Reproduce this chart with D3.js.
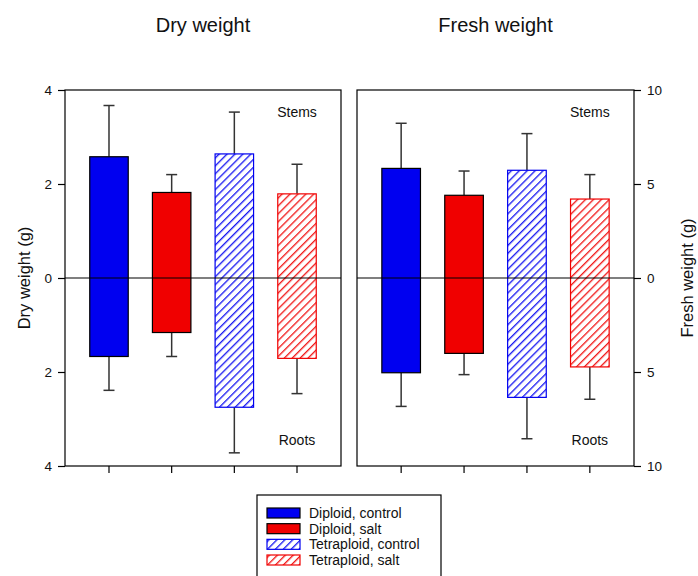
<!DOCTYPE html>
<html>
<head>
<meta charset="utf-8">
<script src="https://cdn.jsdelivr.net/npm/d3@7"></script>
<style>
  html, body { margin: 0; padding: 0; background: #fff; }
  svg { display: block; font-family: Arial, "Liberation Sans", sans-serif; }
</style>
</head>
<body>
<svg id="chart" width="698" height="576"></svg>
<script>
// Treatment groups, in bar order
const categories = ["Diploid, control", "Diploid, salt", "Tetraploid, control", "Tetraploid, salt"];
const colors = ["#0000f0", "#f00000", "#0000f0", "#f00000"];
const hatched = [false, false, true, true];

// Dry weight (g): means and standard errors, stems (up) and roots (down)
const dryStems = [2.58, 1.82, 2.64, 1.79];
const dryStemsErr = [1.09, 0.38, 0.89, 0.63];
const dryRoots = [1.67, 1.16, 2.75, 1.71];
const dryRootsErr = [0.72, 0.51, 0.97, 0.75];

// Fresh weight (g)
const freshStems = [5.83, 4.40, 5.73, 4.20];
const freshStemsErr = [2.40, 1.29, 1.95, 1.30];
const freshRoots = [5.04, 4.01, 6.35, 4.73];
const freshRootsErr = [1.79, 1.13, 2.20, 1.72];

const dryTicks = [-4, -2, 0, 2, 4];
const freshTicks = [-10, -5, 0, 5, 10];

const svg = d3.select("#chart");
const plotTop = 90, plotBottom = 466;

// Diagonal hatch patterns for tetraploid bars
const defs = svg.append("defs");
const hatchId = c => "hatch" + c.slice(1);
[...new Set(colors)].forEach(c => {
  const p = defs.append("pattern")
    .attr("id", hatchId(c))
    .attr("patternUnits", "userSpaceOnUse")
    .attr("width", 5.6).attr("height", 5.6)
    .attr("patternTransform", "rotate(45)");
  p.append("rect").attr("width", 5.6).attr("height", 5.6).attr("fill", "#fff");
  p.append("line").attr("x1", 0.7).attr("y1", 0).attr("x2", 0.7).attr("y2", 5.6)
    .attr("stroke", c).attr("stroke-width", 1.2);
});
const fillOf = i => hatched[i] ? `url(#${hatchId(colors[i])})` : colors[i];
const strokeOf = i => hatched[i] ? colors[i] : "#000";

function panel(opts) {
  const { x0, x1, domain, ticks, stems, stemsErr, roots, rootsErr, title, axisSide, axisLabel } = opts;
  const g = svg.append("g");
  const x = d3.scaleBand().domain(categories).range([x0, x1])
    .paddingInner(0.386).paddingOuter(0.395);
  const y = d3.scaleLinear().domain(domain).range([plotBottom, plotTop]);

  const rows = categories.map((c, i) => ({ c, i, s: stems[i], se: stemsErr[i], r: roots[i], re: rootsErr[i] }));

  // Error bars (outward only)
  const eg = g.append("g").attr("stroke", "#333").attr("stroke-width", 1.5).attr("fill", "none");
  rows.forEach(d => {
    const cx = x(d.c) + x.bandwidth() / 2;
    eg.append("line").attr("x1", cx).attr("x2", cx).attr("y1", y(d.s)).attr("y2", y(d.s + d.se));
    eg.append("line").attr("x1", cx - 5.5).attr("x2", cx + 5.5).attr("y1", y(d.s + d.se)).attr("y2", y(d.s + d.se));
    eg.append("line").attr("x1", cx).attr("x2", cx).attr("y1", y(-d.r)).attr("y2", y(-d.r - d.re));
    eg.append("line").attr("x1", cx - 5.5).attr("x2", cx + 5.5).attr("y1", y(-d.r - d.re)).attr("y2", y(-d.r - d.re));
  });

  // Bars: stems above zero, roots below
  g.selectAll("rect.bar").data(rows).join("rect")
    .attr("class", "bar")
    .attr("x", d => x(d.c))
    .attr("width", x.bandwidth())
    .attr("y", d => y(d.s))
    .attr("height", d => y(-d.r) - y(d.s))
    .attr("fill", d => fillOf(d.i))
    .attr("stroke", d => strokeOf(d.i))
    .attr("stroke-width", 1.2);

  // Zero line
  g.append("line").attr("x1", x0).attr("x2", x1).attr("y1", y(0)).attr("y2", y(0))
    .attr("stroke", "#000").attr("stroke-width", 1.2);

  // Frame
  g.append("rect").attr("x", x0).attr("y", plotTop).attr("width", x1 - x0).attr("height", plotBottom - plotTop)
    .attr("fill", "none").attr("stroke", "#000").attr("stroke-width", 1.2);

  // Value axis
  const axis = (axisSide === "left" ? d3.axisLeft(y) : d3.axisRight(y))
    .tickValues(ticks).tickSize(7).tickPadding(6).tickFormat(v => Math.abs(v));
  const ag = g.append("g")
    .attr("transform", `translate(${axisSide === "left" ? x0 : x1},0)`)
    .call(axis);
  ag.select(".domain").remove();
  ag.selectAll(".tick line").attr("stroke", "#000").attr("stroke-width", 1.2);
  ag.selectAll(".tick text").attr("fill", "#111").attr("font-size", 13.5)
    .attr("font-family", "Arial, 'Liberation Sans', sans-serif");

  // Category ticks along the bottom
  const xg = g.append("g").attr("transform", `translate(0,${plotBottom})`)
    .call(d3.axisBottom(x).tickSize(7).tickFormat(""));
  xg.select(".domain").remove();
  xg.selectAll(".tick line").attr("stroke", "#000").attr("stroke-width", 1.2);

  // Organ labels
  const lx = x(categories[3]) + x.bandwidth() / 2;
  g.append("text").attr("x", lx).attr("y", 117).attr("text-anchor", "middle")
    .attr("font-size", 14).attr("fill", "#111").text("Stems");
  g.append("text").attr("x", lx).attr("y", 445).attr("text-anchor", "middle")
    .attr("font-size", 14).attr("fill", "#111").text("Roots");

  // Panel title
  svg.append("text").attr("x", (x0 + x1) / 2).attr("y", 32).attr("text-anchor", "middle")
    .attr("font-size", 20).attr("fill", "#111").text(title);

  // Axis title
  const ax = axisSide === "left" ? 24 : 687.5;
  svg.append("text")
    .attr("transform", `translate(${ax},${y(0)}) rotate(-90)`)
    .attr("text-anchor", "middle").attr("dy", "0.35em")
    .attr("font-size", 16.5).attr("fill", "#111").text(axisLabel);
}

panel({ x0: 65, x1: 341, domain: [-4, 4], ticks: dryTicks,
  stems: dryStems, stemsErr: dryStemsErr, roots: dryRoots, rootsErr: dryRootsErr,
  title: "Dry weight", axisSide: "left", axisLabel: "Dry weight (g)" });
panel({ x0: 357, x1: 634, domain: [-10, 10], ticks: freshTicks,
  stems: freshStems, stemsErr: freshStemsErr, roots: freshRoots, rootsErr: freshRootsErr,
  title: "Fresh weight", axisSide: "right", axisLabel: "Fresh weight (g)" });

// Legend
const lg = svg.append("g");
lg.append("rect").attr("x", 257).attr("y", 495).attr("width", 184).attr("height", 90)
  .attr("fill", "#fff").attr("stroke", "#000").attr("stroke-width", 1.2);
const rowY = d3.scalePoint().domain(categories).range([513, 560]);
categories.forEach((c, i) => {
  lg.append("rect").attr("x", 267).attr("y", rowY(c) - 5).attr("width", 33).attr("height", 10)
    .attr("fill", fillOf(i)).attr("stroke", strokeOf(i)).attr("stroke-width", 1.2);
  lg.append("text").attr("x", 309).attr("y", rowY(c)).attr("dy", "0.35em")
    .attr("font-size", 14).attr("fill", "#111").text(c);
});
</script>
</body>
</html>
